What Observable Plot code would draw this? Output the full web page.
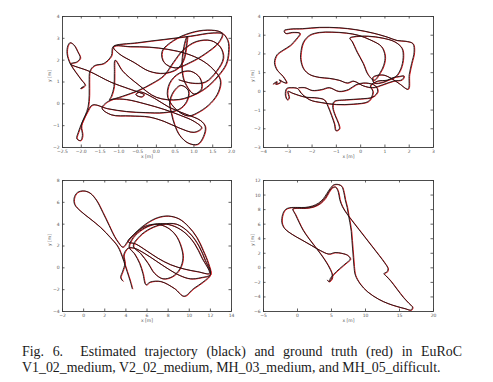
<!DOCTYPE html>
<html><head><meta charset="utf-8">
<script src="https://cdn.jsdelivr.net/npm/d3@7"></script>
<script src="https://cdn.jsdelivr.net/npm/@observablehq/plot@0.6"></script>
<style>
body{margin:0;background:#fff;}
#fig{position:relative;width:493px;height:382px;overflow:hidden;background:#fff;}
#fig svg{position:absolute;}
.cap{position:absolute;left:22px;width:440px;font-family:"Liberation Serif","Times New Roman",serif;font-size:13.9px;color:#1a1a1a;line-height:15.5px;}
#cap1{top:344px;text-align:justify;text-align-last:justify;}
#cap2{top:359.5px;white-space:nowrap;}
</style></head><body>
<div id="fig">
<div class="cap" id="cap1">Fig. 6.&nbsp; Estimated trajectory (black) and ground truth (red) in EuRoC</div>
<div class="cap" id="cap2">V1_02_medium, V2_02_medium, MH_03_medium, and MH_05_difficult.</div>
</div>
<script>
// ---- trajectories [x, y] in metres ----
const v1_02 = [
[-1.95,0.79],[-2.02,0.7],[-1.9,0.85],[-2.0,1.1],[-2.15,1.45],[-2.3,1.85],[-2.38,2.3],[-2.36,2.65],[-2.3,2.8],[-2.2,2.7],[-2.1,2.4],[-2.03,2.1],[-2.12,1.92],[-2.29,1.83],
[-1.8,1.5],[-1.22,1.0],[-0.75,0.7],[-0.45,0.52],[-0.33,0.42],[-0.4,0.32],[-0.55,0.42],[-0.45,0.55],[-0.05,0.25],[0.33,-0.15],[0.75,-0.45],[1.17,-0.76],
[1.3,-1.05],[1.25,-1.5],[1.1,-1.85],[0.85,-1.8],[0.62,-1.45],[0.48,-0.95],[0.4,-0.45],[0.35,0.05],[0.45,0.55],[0.65,0.85],[0.85,0.6],[0.8,0.1],[0.6,-0.25],[0.2,-0.4],
[-0.3,-0.4],[-0.8,-0.35],[-1.3,-0.22],[-1.7,-0.05],[-1.85,-0.4],[-1.98,-0.85],[-2.08,-1.3],[-2.12,-1.6],[-2.02,-1.68],[-1.97,-1.45],[-2.0,-1.0],[-1.9,-0.55],[-1.82,-0.15],[-1.79,0.4],[-1.79,1.0],[-1.77,1.5],[-1.65,1.75],
[-1.4,1.85],[-1.2,2.2],[-1.15,2.62],[-0.7,2.62],[-0.2,2.6],[0.3,2.5],[0.8,2.3],[1.2,2.0],[1.5,1.6],[1.7,1.1],[1.65,0.55],[1.45,0.05],[1.15,-0.35],[0.85,-0.55],
[0.55,-0.3],[0.3,0.3],[0.35,0.95],[0.6,1.4],[0.9,1.5],[1.15,1.2],[1.2,0.7],[1.0,0.45],
[0.75,1.0],[0.68,1.6],[0.7,2.3],[0.77,2.9],[0.82,3.1],[0.8,2.7],[0.72,2.0],[0.55,1.6],[0.2,1.4],[-0.2,1.5],[-0.6,1.9],[-1.0,2.3],[-1.15,2.62],
[-0.5,2.8],[0.2,2.95],[0.9,3.1],[1.5,3.25],[1.75,3.2],[1.65,2.8],[1.3,2.3],[0.9,1.9],[0.5,1.65],
[0.2,1.9],[0.15,2.4],[0.45,2.9],[0.9,3.25],[1.35,3.38],[1.72,3.28],[1.9,2.9],[1.92,2.35],[1.85,1.8],[1.65,1.3],[1.4,0.85],[1.1,0.5],[0.6,0.2],
[0.0,0.3],[-0.5,0.9],[-0.9,1.5],[-1.1,2.0],[-1.12,1.4],[-1.13,0.8],[-1.2,0.35],[-1.25,0.18],[-1.15,0.22],
[-0.8,0.2],[-0.3,0.0],[0.2,-0.25],[0.6,-0.5],[1.0,-0.8],[1.2,-1.1],
[1.0,-1.3],[0.6,-1.1],[0.2,-0.8],[-0.2,-0.6],[-0.7,-0.55],[-1.2,-0.5],[-1.45,-0.2],[-1.3,0.1],[-0.9,0.35],[-0.5,0.6],[-0.1,0.95],[0.2,1.3],[0.45,1.9],[0.7,2.45],[1.05,2.85],[1.45,2.9],[1.7,2.6],[1.78,2.1],[1.6,1.5],[1.3,1.0],[0.95,0.95],[0.6,1.1]
];
const v2_02 = [
[-3.6,0.4],[-3.45,0.52],[-3.5,0.38],[-3.3,0.5],[-3.35,0.62],[-3.2,0.5],[-3.05,0.45],
[-3.2,0.8],[-3.45,1.15],[-3.55,1.55],[-3.45,1.95],[-3.2,2.2],[-2.9,2.45],[-2.65,2.8],[-2.5,3.1],[-2.8,3.15],[-3.1,3.1],[-3.15,3.25],[-2.9,3.33],[-2.4,3.35],
[-1.7,3.42],[-0.9,3.4],[-0.2,3.3],[0.5,3.12],[1.1,2.9],[1.5,2.72],[1.85,2.68],[2.15,2.55],[2.2,2.1],[2.1,1.5],[2.0,0.9],[1.95,0.12],
[1.6,0.4],[1.25,0.7],[0.9,0.88],[0.5,0.75],[0.55,0.45],[0.95,0.5],[1.3,0.72],[1.6,0.8],[1.78,0.82],[1.7,0.62],[1.35,0.55],[0.9,0.35],[0.5,0.2],
[0.1,0.3],[-0.3,0.55],[-0.55,0.45],[-0.9,0.6],[-1.3,0.7],[-1.7,0.75],[-2.1,0.9],
[-2.35,1.2],[-2.47,1.7],[-2.45,2.2],[-2.35,2.65],[-2.1,3.0],[-1.7,3.15],[-1.2,3.17],[-0.6,3.12],[-0.1,3.0],[0.4,2.75],[0.85,2.4],[1.0,1.9],[0.95,1.4],[0.8,1.0],[0.55,0.6],
[0.3,0.9],[0.1,1.5],[-0.15,2.1],[-0.35,2.65],[-0.45,2.85],[-0.3,2.92],[0.3,2.95],[0.9,2.85],[1.4,2.65],[1.7,2.3],[1.75,1.8],[1.65,1.2],[1.45,0.8],[1.1,0.6],[0.7,0.55],
[0.4,0.3],[0.5,0.0],[0.45,-0.3],[0.3,-0.55],[-0.3,-0.68],[-1.0,-0.7],[-1.6,-0.6],[-2.1,-0.45],[-2.45,-0.1],[-2.6,0.15],[-2.85,0.2],[-3.05,0.15],[-3.1,-0.2],[-3.02,-0.45],[-2.95,-0.35],[-3.0,0.0],
[-2.8,-0.1],[-2.3,-0.3],[-1.8,-0.35],[-1.5,-0.45],[-1.35,-0.8],[-1.2,-1.3],[-1.08,-1.75],[-1.02,-2.1],[-0.88,-2.0],[-0.92,-1.7],[-1.05,-1.3],[-1.15,-0.85],[-1.1,-0.55],[-0.6,-0.45],[0.0,-0.4],[0.5,-0.3],[0.7,0.0],[0.6,0.3],
[0.2,0.45],[-0.2,0.35],[-0.5,0.1],[-0.9,0.0],[-1.3,0.2],[-1.6,0.1],[-2.0,0.05],[-2.3,0.2],[-2.55,0.2]
];
const mh_03 = [
[4.6,-1.9],[4.4,-1.2],[4.1,-0.3],[3.8,0.6],[3.5,1.4],[3.2,2.0],
[2.5,2.8],[1.6,3.7],[0.6,4.5],[-0.3,5.2],[-0.85,5.8],[-0.9,6.4],[-0.6,6.9],[0.0,7.05],[0.6,6.85],[1.2,6.2],[1.8,5.1],[2.4,3.9],[2.9,2.9],[3.3,2.3],[3.7,1.9],
[4.3,2.6],[5.1,3.4],[6.0,4.1],[7.0,4.6],[8.0,4.75],[9.0,4.5],[9.9,3.8],[10.7,2.8],[11.3,1.6],[11.8,0.4],[12.0,-0.6],
[11.3,-1.3],[10.4,-1.9],[9.5,-2.6],[8.6,-1.9],[7.3,-1.25],[6.3,-1.3],[5.9,-1.55],[5.6,-0.5],[5.3,0.4],[4.8,1.3],[4.3,1.9],
[4.7,2.8],[5.5,3.5],[6.5,3.95],[7.5,4.05],[8.6,3.8],[9.6,3.2],[10.5,2.2],[11.2,0.9],[11.9,-0.5],
[10.8,-0.35],[9.5,-0.1],[8.2,0.3],[7.0,0.9],[5.9,1.6],[4.9,2.2],[4.2,2.4],
[4.8,3.1],[5.8,3.8],[6.9,4.0],[7.9,3.7],[8.7,3.0],[9.2,2.0],[9.4,0.9],[9.1,-0.1],[8.4,-0.8],[7.5,-1.0],[6.7,-0.5],[6.1,0.4],[5.4,1.3],[4.7,2.0],
[5.3,2.9],[6.3,3.6],[7.5,4.0],[8.8,4.0],[10.0,3.2],[10.9,2.0],[11.5,0.7],[12.0,-0.6],[11.1,-0.9],[10.1,-1.0],[9.1,-0.7],[8.0,-0.1],[6.9,0.6],[5.8,1.3],[4.8,1.8],[4.2,1.8],
[3.8,1.2],[3.9,0.4],[3.7,-0.3],[3.5,-0.9],[3.7,-1.2]
];
const mh_05 = [
[4.7,-1.8],[4.8,-1.5],[5.3,-0.9],[6.2,-0.1],[7.2,0.7],[7.75,1.2],[7.4,1.7],[6.5,2.0],[5.5,2.1],[4.6,1.9],[3.3,2.4],[2.0,3.1],[0.5,3.9],[-0.8,4.6],[-1.9,5.4],[-2.3,6.2],[-2.2,7.3],[-1.8,8.0],[-1.2,8.25],[0.0,8.3],[1.1,8.3],[2.2,8.5],[3.1,8.9],[3.8,9.5],[4.3,10.2],[4.8,10.9],[5.3,11.4],[6.0,11.45],[6.5,11.2],[6.8,10.4],[7.0,9.4],[7.3,8.3],[7.5,7.2],[7.7,6.2],[7.9,5.0],[8.0,3.8],[8.1,2.6],[8.2,1.4],[8.3,0.2],[8.5,-1.0],[9.2,-2.2],[10.3,-3.3],[11.9,-4.3],[13.3,-4.9],[14.6,-5.3],[15.8,-5.6],[16.7,-5.8],[16.9,-5.4],[16.4,-4.9],[15.6,-4.1],[14.6,-2.9],[13.7,-1.8],[13.0,-1.1],[12.7,-0.8],[13.2,-0.5],[13.3,-0.1],[12.8,0.7],[12.0,1.7],[11.0,2.9],[10.0,4.1],[9.0,5.3],[8.0,6.5],[7.2,7.5],[6.6,8.4],[6.2,9.4],[6.0,10.4],[5.6,11.1],[5.1,11.0],[4.6,10.4],[4.1,9.6],[3.4,8.9],[2.4,8.4],[1.2,8.2],[-0.1,8.2],[-0.7,8.1],[-0.3,7.3],[0.2,6.3],[0.8,5.2],[1.6,4.1],[2.5,3.0],[3.4,1.9],[4.2,0.8],[4.8,-0.2],[5.1,-1.0],[5.0,-1.6],[4.6,-1.9],[4.4,-1.7]
];

// ---- axis ticks ----
const v1xTicks = [-2.5,-2.0,-1.5,-1.0,-0.5,0.0,0.5,1.0,1.5,2.0];
const v1yTicks = [-2,-1,0,1,2,3,4];
const v2xTicks = [-4,-3,-2,-1,0,1,2,3];
const v2yTicks = [-3,-2,-1,0,1,2,3,4];
const mh3xTicks = [-2,0,2,4,6,8,10,12,14];
const mh3yTicks = [-4,-2,0,2,4,6,8];
const mh5xTicks = [-5,0,5,10,15,20];
const mh5yTicks = [-6,-4,-2,0,2,4,6,8,10,12];

const panels = [
  {data:v1_02, xt:v1xTicks, yt:v1yTicks, xf:d3.format(".1f"), left:0, top:0, width:240, ml:62, mr:9, mt:16, mb:18, ylx:-13},
  {data:v2_02, xt:v2xTicks, yt:v2yTicks, xf:d3.format("d"), left:240, top:0, width:253, ml:23, mr:60, mt:16, mb:18, ylx:-11},
  {data:mh_03, xt:mh3xTicks, yt:mh3yTicks, xf:d3.format("d"), left:0, top:165, width:240, ml:62, mr:9, mt:15, mb:19, ylx:-13},
  {data:mh_05, xt:mh5xTicks, yt:mh5yTicks, xf:d3.format("d"), left:240, top:165, width:253, ml:23, mr:60, mt:15, mb:19, ylx:-11}
];

const fig = document.getElementById("fig");
for (const p of panels) {
  const H = 165;
  const fh = H - p.mt - p.mb, fw = p.width - p.ml - p.mr;
  const svg = Plot.plot({
    width: p.width, height: H,
    marginLeft: p.ml, marginRight: p.mr, marginTop: p.mt, marginBottom: p.mb,
    x: {domain: [p.xt[0], p.xt[p.xt.length-1]]},
    y: {domain: [p.yt[0], p.yt[p.yt.length-1]]},
    style: {background: "transparent", fontFamily: "DejaVu Sans", fontSize: "4.5px", color: "#555"},
    marks: [
      Plot.line(p.data, {x: d => d[0], y: d => d[1], curve: "catmull-rom", stroke: "#e3141b", strokeWidth: 1.0, dx: 0.6, dy: 0.3}),
      Plot.line(p.data, {x: d => d[0], y: d => d[1], curve: "catmull-rom", stroke: "#151515", strokeWidth: 0.9}),
      Plot.frame({stroke: "#3a3a3a", strokeWidth: 0.9}),
      Plot.tickX(p.xt, {x: d => d, insetTop: fh - 2.5, stroke: "#3a3a3a", strokeWidth: 0.8}),
      Plot.tickX(p.xt, {x: d => d, insetBottom: fh - 2.5, stroke: "#3a3a3a", strokeWidth: 0.8}),
      Plot.tickY(p.yt, {y: d => d, insetRight: fw - 2.5, stroke: "#3a3a3a", strokeWidth: 0.8}),
      Plot.tickY(p.yt, {y: d => d, insetLeft: fw - 2.5, stroke: "#3a3a3a", strokeWidth: 0.8}),
      Plot.axisX({ticks: p.xt, tickSize: 0, tickPadding: 1.8, tickFormat: p.xf, label: null, fontSize: 4.5, fill: "#555"}),
      Plot.axisY({ticks: p.yt, tickSize: 0, tickPadding: 2.8, tickFormat: d3.format("d"), label: null, fontSize: 4.5, fill: "#555"}),
      Plot.text(["x [m]"], {frameAnchor: "bottom", dy: 10.2, fontSize: 4.5, fill: "#555"}),
      Plot.text(["y [m]"], {frameAnchor: "left", dx: p.ylx, rotate: -90, fontSize: 4.5, fill: "#555"})
    ]
  });
  svg.style.left = p.left + "px";
  svg.style.top = p.top + "px";
  fig.appendChild(svg);
}
</script>
</body></html>
